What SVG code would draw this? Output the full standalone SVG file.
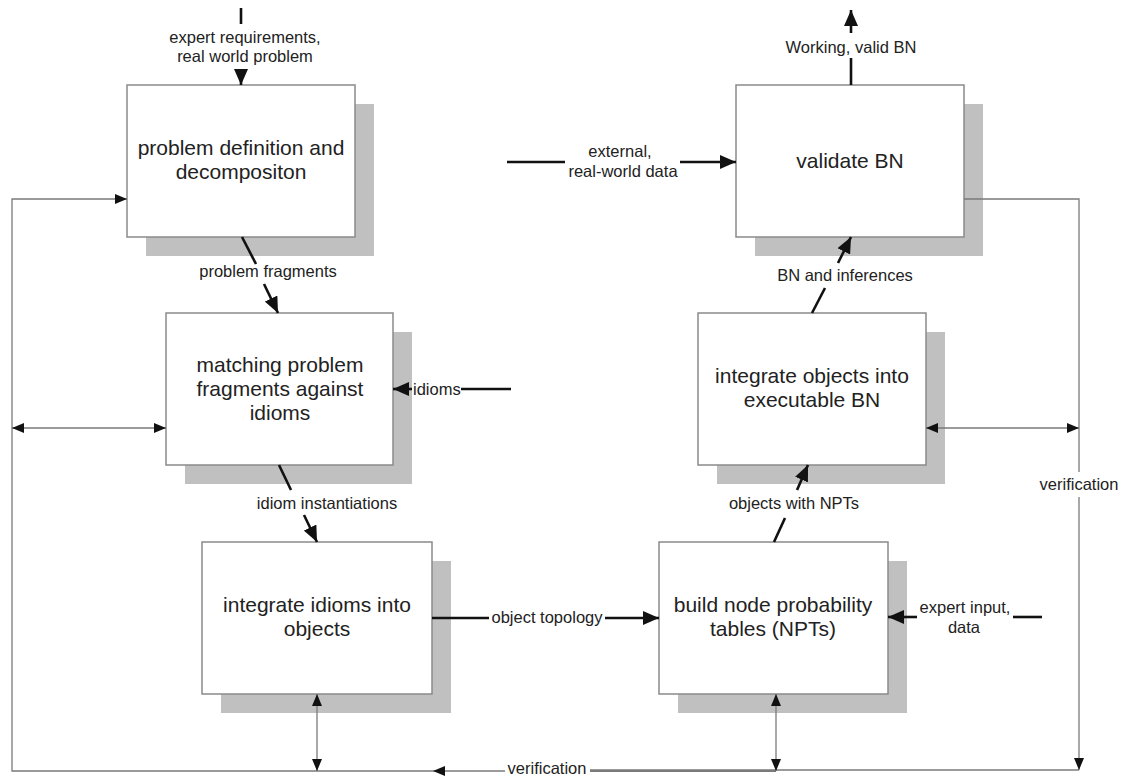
<svg xmlns="http://www.w3.org/2000/svg" width="1127" height="776" viewBox="0 0 1127 776">
  <style>
    .shadow { fill: #c0c0c0; }
    .box { fill: #ffffff; stroke: #8a8a8a; stroke-width: 1.5; }
    .btxt { font-family: "Liberation Sans", Arial, sans-serif; font-size: 21px; fill: #222; text-anchor: middle; }
    .lbl { font-family: "Liberation Sans", Arial, sans-serif; font-size: 16.5px; fill: #222; text-anchor: middle; }
    .thick { stroke: #111; stroke-width: 2.6; fill: none; }
    .thin { stroke: #7a7a7a; stroke-width: 1.3; fill: none; }
  </style>
  <defs>
    <marker id="bigHead" markerUnits="userSpaceOnUse" markerWidth="16" markerHeight="14" refX="16" refY="7" orient="auto">
      <path d="M0,0 L16,7 L0,14 z" fill="#111"/>
    </marker>
    <marker id="smallHead" markerUnits="userSpaceOnUse" markerWidth="12" markerHeight="10" refX="12" refY="5" orient="auto-start-reverse">
      <path d="M0,0 L12,5 L0,10 z" fill="#111"/>
    </marker>
  </defs>
  <rect width="1127" height="776" fill="#ffffff"/>

  <!-- process steps -->
  <g id="problem-definition">
    <rect class="shadow" x="146" y="104" width="228" height="152"/>
    <rect class="box" x="127" y="85" width="228" height="152"/>
    <text class="btxt" x="241" y="155">problem definition and</text>
    <text class="btxt" x="241" y="179">decompositon</text>
  </g>
  <g id="matching-fragments">
    <rect class="shadow" x="185" y="332" width="227" height="152"/>
    <rect class="box" x="166" y="313" width="227" height="152"/>
    <text class="btxt" x="280" y="372">matching problem</text>
    <text class="btxt" x="280" y="396">fragments against</text>
    <text class="btxt" x="280" y="420">idioms</text>
  </g>
  <g id="integrate-idioms">
    <rect class="shadow" x="221" y="561" width="230" height="152"/>
    <rect class="box" x="202" y="542" width="230" height="152"/>
    <text class="btxt" x="317" y="612">integrate idioms into</text>
    <text class="btxt" x="317" y="636">objects</text>
  </g>
  <g id="build-npts">
    <rect class="shadow" x="678" y="561" width="229" height="152"/>
    <rect class="box" x="659" y="542" width="229" height="152"/>
    <text class="btxt" x="773" y="612">build node probability</text>
    <text class="btxt" x="773" y="636">tables (NPTs)</text>
  </g>
  <g id="integrate-objects">
    <rect class="shadow" x="717" y="332" width="228" height="152"/>
    <rect class="box" x="698" y="313" width="228" height="152"/>
    <text class="btxt" x="812" y="383">integrate objects into</text>
    <text class="btxt" x="812" y="407">executable BN</text>
  </g>
  <g id="validate-bn">
    <rect class="shadow" x="755" y="104" width="228" height="152"/>
    <rect class="box" x="736" y="85" width="228" height="152"/>
    <text class="btxt" x="850" y="168">validate BN</text>
  </g>

  <g id="connectors">
    <!-- main flow -->
    <line class="thick" x1="241" y1="8" x2="241" y2="24"/>
    <text class="lbl" x="245" y="43">expert requirements,</text>
    <text class="lbl" x="245" y="62">real world problem</text>
    <line class="thick" x1="241" y1="70" x2="241" y2="85" marker-end="url(#bigHead)"/>

    <line class="thick" x1="242" y1="237" x2="256" y2="264"/>
    <text class="lbl" x="268" y="277">problem fragments</text>
    <line class="thick" x1="264" y1="284" x2="278" y2="313" marker-end="url(#bigHead)"/>

    <line class="thick" x1="279" y1="465" x2="291" y2="490"/>
    <text class="lbl" x="327" y="509">idiom instantiations</text>
    <line class="thick" x1="304" y1="515" x2="317" y2="542" marker-end="url(#bigHead)"/>

    <line class="thick" x1="432" y1="618" x2="489" y2="618"/>
    <text class="lbl" x="547" y="623">object topology</text>
    <line class="thick" x1="605" y1="618" x2="659" y2="618" marker-end="url(#bigHead)"/>

    <line class="thick" x1="774" y1="542" x2="785" y2="518"/>
    <text class="lbl" x="794" y="509">objects with NPTs</text>
    <line class="thick" x1="797" y1="490" x2="808" y2="465" marker-end="url(#bigHead)"/>

    <line class="thick" x1="812" y1="313" x2="825" y2="288"/>
    <text class="lbl" x="845" y="281">BN and inferences</text>
    <line class="thick" x1="838" y1="263" x2="851" y2="237" marker-end="url(#bigHead)"/>

    <line class="thick" x1="851" y1="85" x2="851" y2="58"/>
    <text class="lbl" x="851" y="53">Working, valid BN</text>
    <line class="thick" x1="851" y1="33" x2="851" y2="10" marker-end="url(#bigHead)"/>

    <!-- side inputs -->
    <line class="thick" x1="507" y1="162" x2="565" y2="162"/>
    <text class="lbl" x="620" y="157">external,</text>
    <text class="lbl" x="623" y="177">real-world data</text>
    <line class="thick" x1="680" y1="162" x2="736" y2="162" marker-end="url(#bigHead)"/>

    <line class="thick" x1="412" y1="389" x2="393" y2="389" marker-end="url(#bigHead)"/>
    <text class="lbl" x="413" y="395" style="text-anchor:start">idioms</text>
    <line class="thick" x1="461" y1="389" x2="511" y2="389"/>

    <line class="thick" x1="917" y1="617" x2="888" y2="617" marker-end="url(#bigHead)"/>
    <text class="lbl" x="965" y="613">expert input,</text>
    <text class="lbl" x="964" y="633">data</text>
    <line class="thick" x1="1013" y1="617" x2="1042" y2="617"/>

    <!-- verification loops -->
    <path class="thin" d="M433,771 H12 V199 H127" marker-end="url(#smallHead)"/>
    <line class="thin" x1="505" y1="771" x2="433" y2="771" marker-end="url(#smallHead)"/>
    <text class="lbl" x="547" y="774">verification</text>
    <path class="thin" d="M1079,770 H590"/>
    <line class="thin" x1="590" y1="771" x2="776" y2="771" style="stroke-width:2"/>

    <path class="thin" d="M964,199 H1079 V472"/>
    <text class="lbl" x="1079" y="490">verification</text>
    <line class="thin" x1="1079" y1="497" x2="1079" y2="770" marker-end="url(#smallHead)"/>

    <line class="thin" x1="12" y1="428" x2="166" y2="428" marker-start="url(#smallHead)" marker-end="url(#smallHead)"/>
    <line class="thin" x1="926" y1="428" x2="1079" y2="428" marker-start="url(#smallHead)" marker-end="url(#smallHead)"/>
    <line class="thin" x1="317" y1="694" x2="317" y2="771" marker-start="url(#smallHead)" marker-end="url(#smallHead)"/>
    <line class="thin" x1="776" y1="694" x2="776" y2="771" marker-start="url(#smallHead)" marker-end="url(#smallHead)"/>
  </g>
</svg>
